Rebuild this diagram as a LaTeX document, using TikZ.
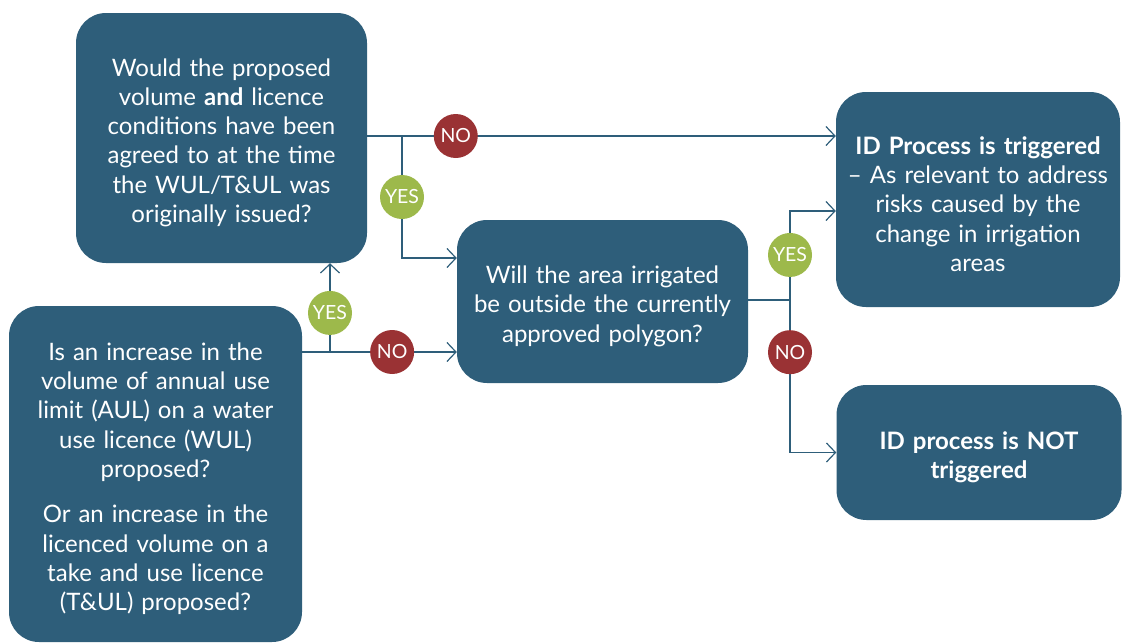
\documentclass[tikz,border=0pt]{standalone}
\usepackage{fontspec}
\setmainfont{Lato}
\usepackage{xcolor}
\usetikzlibrary{arrows.meta,positioning}
\definecolor{boxblue}{HTML}{2E5E7A}
\definecolor{yesgreen}{HTML}{9DB94B}
\definecolor{nored}{HTML}{9A3234}

\begin{document}
\begin{tikzpicture}[
        x=1pt, y=-1pt,
        box/.style={fill=boxblue, rounded corners=30pt, text=white, align=center, inner sep=0pt,
            font=\fontsize{24}{29.3}\selectfont, execute at begin node={\rule{0pt}{27pt}}},
        yes/.style={circle, fill=yesgreen, text=white, minimum size=44pt, inner sep=0pt,
            font=\fontsize{19.5}{19.5}\selectfont},
        no/.style={circle, fill=nored, text=white, minimum size=44pt, inner sep=0pt,
            font=\fontsize{19.5}{19.5}\selectfont},
        line/.style={draw=boxblue, line width=1.2pt},
        >={Straight Barb[length=9pt,width=19pt]}
    ]
        \useasboundingbox (0,0) rectangle (1122,643);

        \node[box, minimum width=291pt, minimum height=250pt, text width=285pt] (q1) at (221.5,138)
            {Would the proposed\\ volume \textbf{and} licence\\ conditions have been\\ agreed to at the time\\ the WUL/T\&UL was\\ originally issued?};
        \node[box, minimum width=293pt, minimum height=336pt, text width=285pt] (start) at (155.5,474)
            {Is an increase in the\\ volume of annual use\\ limit (AUL) on a water\\ use licence (WUL)\\ proposed?\\[16pt] Or an increase in the\\ licenced volume on a\\ take and use licence\\ (T\&UL) proposed?};
        \node[box, minimum width=291pt, minimum height=163pt, text width=285pt] (q2) at (602.5,301.5)
            {Will the area irrigated\\ be outside the currently\\ approved polygon?};
        \node[box, minimum width=284pt, minimum height=215pt, text width=280pt] (trig) at (978,199.5)
            {\textbf{ID Process is triggered}\\ -- As relevant to address\\ risks caused by the\\ change in irrigation\\ areas};
        \node[box, minimum width=285pt, minimum height=135pt, text width=280pt] (nottrig) at (979,452.5)
            {\textbf{ID process is NOT}\\ \textbf{triggered}};

        \coordinate (j1) at (330,352);
        \coordinate (j2) at (402,136);
        \coordinate (j3) at (790,300);

        % first question
        \draw[line] (start.east |- j1) -- (j1);
        \draw[line,->] (j1) -- (q1.south -| j1) node[yes, pos=0.44] {YES};
        \draw[line,->] (j1) -- (q2.west |- j1) node[no, pos=0.49] {NO};

        % volume agreed?
        \draw[line] (q1.east |- j2) -- (j2);
        \draw[line,->] (j2) -- (trig.west |- j2) node[no, pos=0.124] {NO};
        \draw[line,->] (j2) |- ([yshift=43.5pt]q2.west) node[yes, pos=0.25] {YES};

        % area outside polygon?
        \draw[line] (q2.east |- j3) -- (j3);
        \draw[line,->] (j3) |- ([yshift=-11.5pt]trig.west) node[yes, pos=0.253] {YES};
        \draw[line,->] (j3) |- (nottrig.west) node[no, pos=0.171] {NO};
    \end{tikzpicture}
\end{document}
